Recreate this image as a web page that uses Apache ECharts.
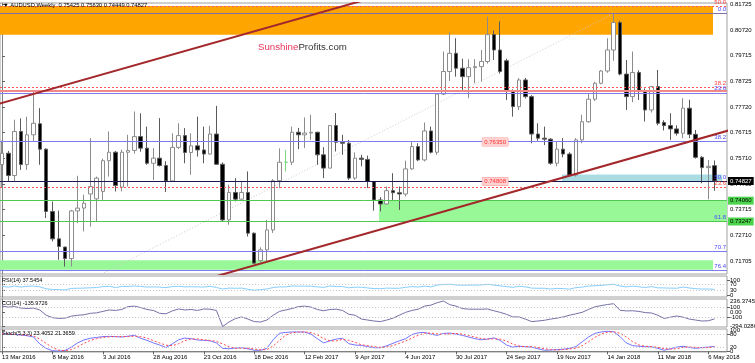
<!DOCTYPE html>
<html><head><meta charset="utf-8">
<script src="https://cdn.jsdelivr.net/npm/echarts@6/dist/echarts.min.js"></script>
<style>html,body{margin:0;padding:0;background:#fff}#c{width:755px;height:363px}</style>
</head><body><div id="c"></div>
<script>
// ---- weekly candles (index 0 = week of 13 Mar 2016) ----
const opens = [0.7547,0.7591,0.7504,0.7676,0.7547,0.7663,0.7706,0.7607,0.7364,0.7257,0.7225,0.7180,0.7366,0.7377,0.7432,0.7413,0.7442,0.7562,0.7595,0.7459,0.7595,0.7602,0.7656,0.7611,0.7552,0.7572,0.7543,0.7483,0.7614,0.7660,0.7594,0.7620,0.7604,0.7588,0.7666,0.7548,0.7331,0.7438,0.7412,0.7438,0.7279,0.7172,0.7214,0.7292,0.7484,0.7556,0.7556,0.7673,0.7663,0.7670,0.7673,0.7585,0.7533,0.7699,0.7634,0.7630,0.7494,0.7572,0.7567,0.7481,0.7409,0.7393,0.7445,0.7437,0.7432,0.7530,0.7617,0.7565,0.7678,0.7595,0.7822,0.7910,0.7981,0.7923,0.7890,0.7925,0.7929,0.7949,0.8054,0.7994,0.7952,0.7835,0.7773,0.7877,0.7812,0.7666,0.7650,0.7646,0.7552,0.7607,0.7588,0.7506,0.7643,0.7714,0.7802,0.7864,0.7912,0.7994,0.8101,0.7900,0.7812,0.7906,0.7835,0.7760,0.7851,0.7711,0.7699,0.7686,0.7669,0.7767,0.7665,0.7575,0.7535,0.75425];
const closes = [0.7591,0.7504,0.7676,0.7547,0.7663,0.7708,0.7607,0.7364,0.7257,0.7227,0.7180,0.7366,0.7377,0.7396,0.7461,0.7494,0.7562,0.7595,0.7465,0.7595,0.7602,0.7656,0.7611,0.7552,0.7572,0.7543,0.7483,0.7614,0.7660,0.7594,0.7620,0.7604,0.7588,0.7666,0.7548,0.7331,0.7438,0.7412,0.7438,0.7279,0.7162,0.7214,0.7292,0.7484,0.7556,0.7556,0.7673,0.7663,0.7670,0.7673,0.7585,0.7533,0.7699,0.7634,0.7630,0.7494,0.7572,0.7567,0.7481,0.7409,0.7393,0.7445,0.7437,0.7432,0.7530,0.7617,0.7565,0.7678,0.7595,0.7822,0.7910,0.7981,0.7923,0.7890,0.7925,0.7929,0.7949,0.8054,0.7994,0.7910,0.7835,0.7773,0.7877,0.7812,0.7666,0.7650,0.7646,0.7552,0.7607,0.7588,0.7506,0.7643,0.7714,0.7802,0.7864,0.7912,0.7994,0.8101,0.7900,0.7812,0.7906,0.7835,0.7760,0.7851,0.7708,0.7699,0.7686,0.7669,0.7767,0.7665,0.7575,0.7535,0.7540,0.74827];
const lows = [0.7455,0.7480,0.7480,0.7526,0.7526,0.7637,0.7546,0.7338,0.7247,0.7175,0.7149,0.7149,0.7318,0.7286,0.7305,0.7325,0.7409,0.7500,0.7442,0.7442,0.7461,0.7590,0.7597,0.7546,0.7487,0.7539,0.7440,0.7480,0.7608,0.7552,0.7507,0.7578,0.7552,0.7585,0.7545,0.7327,0.7312,0.7403,0.7409,0.7266,0.7160,0.7165,0.7168,0.7280,0.7455,0.7520,0.7545,0.7607,0.7611,0.7643,0.7546,0.7494,0.7533,0.7598,0.7585,0.7487,0.7487,0.7540,0.7455,0.7367,0.7364,0.7390,0.7409,0.7370,0.7422,0.7526,0.7560,0.7559,0.7590,0.7585,0.7818,0.7873,0.7890,0.7838,0.7806,0.7864,0.7871,0.7941,0.7955,0.7902,0.7799,0.7734,0.7760,0.7805,0.7630,0.7640,0.7623,0.7546,0.7540,0.7575,0.7501,0.7500,0.7630,0.7710,0.7795,0.7860,0.7905,0.7952,0.7895,0.7760,0.7790,0.7799,0.7715,0.7750,0.7700,0.7680,0.7643,0.7660,0.7650,0.7650,0.7570,0.7474,0.7411,0.74449];
const highs = [0.7640,0.7600,0.7722,0.7727,0.7734,0.7832,0.7767,0.7610,0.7403,0.7367,0.7226,0.7370,0.7503,0.7429,0.7650,0.7500,0.7570,0.7676,0.7600,0.7605,0.7663,0.7754,0.7747,0.7695,0.7611,0.7728,0.7560,0.7669,0.7708,0.7689,0.7669,0.7734,0.7695,0.7698,0.7776,0.7555,0.7468,0.7494,0.7481,0.7520,0.7282,0.7224,0.7331,0.7490,0.7610,0.7604,0.7695,0.7690,0.7731,0.7741,0.7675,0.7615,0.7701,0.7748,0.7663,0.7643,0.7594,0.7585,0.7582,0.7481,0.7420,0.7461,0.7513,0.7461,0.7562,0.7637,0.7630,0.7711,0.7695,0.7825,0.7988,0.8063,0.8040,0.7960,0.7958,0.7958,0.7994,0.8124,0.8070,0.8105,0.7960,0.7840,0.7884,0.7885,0.7818,0.7708,0.7695,0.7650,0.7637,0.7650,0.7595,0.7650,0.7741,0.7825,0.7870,0.7916,0.8040,0.8134,0.8108,0.7955,0.7988,0.7915,0.7844,0.7854,0.7916,0.7720,0.7747,0.7700,0.7806,0.7800,0.7682,0.7580,0.7565,0.75630];
const dateLabels = ['13 Mar 2016','8 May 2016','3 Jul 2016','28 Aug 2016','23 Oct 2016','18 Dec 2016','12 Feb 2017','9 Apr 2017','4 Jun 2017','30 Jul 2017','24 Sep 2017','19 Nov 2017','14 Jan 2018','11 Mar 2018','6 May 2018'];
// ---- indicators ----
const rsi = [58,52,60,53,58,60,54,42,37,36,34,44,45,46,48,50,56,58,50,57,57,60,57,53,54,53,49,56,58,54,55,54,53,58,50,40,46,45,46,38,32,36,40,50,54,54,60,59,59,59,54,51,60,56,56,48,52,52,47,43,42,46,45,45,51,56,53,59,54,66,70,72,67,65,66,66,67,71,66,61,56,51,58,54,46,45,45,40,44,43,39,49,53,59,62,64,68,72,60,54,59,55,50,56,48,47,46,45,53,47,42,40,40,37.5454];
const cci = [130,110,120,90,80,90,50,-60,-110,-126,-120,-80,-60,-50,-20,-10,20,50,40,60,120,130,100,60,40,-20,-30,30,70,50,60,40,70,66,40,-294.0286,-200,-130,-95,-140,-192,-200,-160,-60,20,50,80,120,130,110,60,33,60,66,40,-40,-60,-140,-160,-180,-192,-160,-120,-60,0,40,66,130,150,200,236.3745,160,130,80,66,66,66,70,33,0,-40,-95,-95,-140,-192,-180,-165,-140,-120,-95,-60,-30,1,60,114,140,163,180,44,30,33,20,-5,-13,-60,-126,-100,-75,-100,-140,-160,-180,-175,-135.9726];
const stochMain = [84,82,80,78,74,68,35,14,3,1,4,20,40,54,62,66,70,71,70,68,72,76,62,52,40,30,18,35,55,63,60,54,52,50,40,14,12,16,17,12,5,5,14,55,86,90,92,92,92,82,60,40,50,58,62,36,30,28,22,17,17,26,38,50,60,80,88,90,82,76,85,87,82,76,68,60,55,58,64,52,30,20,24,22,20,12,5,6,8,10,14,22,45,68,85,92,95,93,70,40,27,24,22,21,14,5,12,20,24,18,14,18,20,23.4052];
const stochSignal = [83,83,81,79,77,73,58,38,18,6,3,8,22,38,52,60,66,69,70,70,70,72,70,63,51,40,29,27,36,51,59,59,55,52,47,35,22,14,15,15,11,7,8,25,52,77,89,91,92,89,78,61,50,49,57,52,43,31,27,22,19,20,27,38,49,63,76,86,87,83,81,83,85,82,75,68,61,58,59,58,49,34,25,22,22,18,12,8,6,8,11,15,27,45,66,82,91,93,86,68,46,30,24,22,19,13,10,12,19,21,19,17,17,21.3659];
// ---- axis ticks ----
const priceTicks = [0.81725,0.80720,0.79715,0.78725,0.77720,0.76715,0.75710,0.74705,0.73715,0.72710,0.71705];
const rsiTicksA = [70,30];
const rsiTicksB = [100,0];
const cciTicksA = [236.3745,0,-294.0286];
const cciTicksB = [100,-100];
const stochTicksA = [100,20];
const stochTicksB = [80,0];
// ---- drawn objects ----
const fibALevels = [0.8136,0.7827,0.7636,0.74815,0.7327,0.7210,0.7136];
const fibALabels = ['0.0','23.6','38.2','50.0','61.8','70.7','76.4'];
const fibBLevels = [0.8166,0.7850,0.7459];
const fibBLabels = ['50.0','38.2','23.6'];
const resistanceLine = 0.78354;
const greenLevels = [0.74060,0.73247];
const lastPrice = 0.74827;
const hLineTags = [[78.2,0.76350],[78.2,0.74808]];
const orangeZone = [['min',0.80537],[112.75,0.81656]];
const greenZoneA = [[59.8,0.73247],['max',0.74060]];
const greenZoneB = [['min',0.71360],[112.75,0.71730]];
const cyanZone = [[88.8,0.74810],[114.2,0.75080]];
const trendUpper = [[-10,0.77179],[60,0.82065]];
const trendLower = [[30,0.70834],[116,0.76854]];
const fibDiagonal = [[-7.6,0.6827],[97,0.8136]];

const FONT = 'Liberation Sans';
const XMIN = -0.317, XMAX = 114.97;
const candles = opens.map((o,i)=>[i,o,closes[i],lows[i],highs[i]]);
const idx = a => a.map((v,i)=>[i,v]);

const hLines = [];
fibALevels.forEach((v,k)=>hLines.push({yAxis:v,
  lineStyle:{color: k===0?'#8070a8':(k===3?'#2a2a90':'#7c7cf0'),type:'solid',width:1},
  label:{show:true,position:'insideEndTop',formatter:fibALabels[k],color:'#4848ff',fontSize:6,fontFamily:FONT,distance:[1,1]}}));
fibBLevels.forEach((v,k)=>hLines.push({yAxis:v,
  lineStyle:{color:'#ff5a5a',type:[2,2],width:1},
  label:{show:true,position:'insideEndTop',formatter:fibBLabels[k],color:'#ff4040',fontSize:6,fontFamily:FONT,distance:[1,1]}}));
hLines.push({yAxis:resistanceLine,lineStyle:{color:'#f08a8a',type:'solid',width:2},label:{show:false}});
greenLevels.forEach(v=>hLines.push({yAxis:v,lineStyle:{color:'#4fc84f',type:'solid',width:1},
  label:{show:true,position:'end',formatter:v.toFixed(5),color:'#000',backgroundColor:'#4cd44c',fontSize:6,fontFamily:FONT,padding:[1,2],distance:1}}));
hLines.push({yAxis:lastPrice,lineStyle:{color:'#1a1a50',type:'solid',width:1},
  label:{show:true,position:'end',formatter:lastPrice.toFixed(5),color:'#fff',backgroundColor:'#000',fontSize:6,fontFamily:FONT,padding:[1,2],distance:1}});

const levelLine = (vals)=>({silent:true,symbol:'none',precision:6,label:{show:false},
  lineStyle:{color:'#c8c8c8',type:[1,2],width:1},data:vals.map(v=>({yAxis:v}))});

const chart = echarts.init(document.getElementById('c'),null,{renderer:'canvas'});
const grids = [
  {left:0,right:28,top:3,height:271},
  {left:0,right:28,top:276,height:21},
  {left:0,right:28,top:299,height:28},
  {left:0,right:28,top:329,height:23}
].map(g=>Object.assign(g,{show:true,borderColor:'#a0a0a0',borderWidth:1,containLabel:false,outerBoundsMode:'none'}));

const xAxes = [0,1,2,3].map(k=>({type:'value',gridIndex:k,min:XMIN,max:XMAX,show:k===3,
  splitLine:{show:false},axisLine:{show:true,lineStyle:{color:'#808080'}},
  axisTick:{show:true,customValues:dateLabels.map((_,j)=>j*8),length:3,lineStyle:{color:'#606060'}},
  axisLabel:{show:true,customValues:dateLabels.map((_,j)=>j*8),formatter:v=>dateLabels[Math.round(v/8)],
    align:'left',fontSize:6,fontFamily:FONT,color:'#000',margin:2}}));

const yAxisBase = (k,min,max,ticks,fmt,showLine)=>({type:'value',gridIndex:k,position:'right',min:min,max:max,
  splitLine:{show:false},axisLine:{show:showLine,lineStyle:{color:'#808080'}},
  axisTick:{show:true,customValues:ticks,length:3,lineStyle:{color:'#606060'}},
  axisLabel:{customValues:ticks,formatter:fmt,fontSize:6,fontFamily:FONT,color:'#000',margin:3,hideOverlap:false}});

const option = {
  animation:false,
  backgroundColor:'#ffffff',
  grid:grids,
  xAxis:xAxes,
  yAxis:[
    yAxisBase(0,0.71198,0.81774,priceTicks,v=>v.toFixed(5),true),
    yAxisBase(1,-13.3,126.7,rsiTicksA,v=>String(v),true),
    yAxisBase(2,-304.4,277.97,cciTicksA,v=>v===0?'0.00':String(v),true),
    yAxisBase(3,-3.3,106.2,stochTicksA,v=>String(v),true),
    yAxisBase(1,-13.3,126.7,rsiTicksB,v=>String(v),false),
    yAxisBase(2,-304.4,277.97,cciTicksB,v=>String(v),false),
    yAxisBase(3,-3.3,106.2,stochTicksB,v=>String(v),false)
  ],
  series:[
    {type:'line',xAxisIndex:0,yAxisIndex:0,data:[],z:1,silent:true,
      markArea:{silent:true,data:[
        [{xAxis:orangeZone[0][0],yAxis:orangeZone[0][1],itemStyle:{color:'#ffa500'}},{xAxis:orangeZone[1][0],yAxis:orangeZone[1][1]}],
        [{xAxis:greenZoneA[0][0],yAxis:greenZoneA[0][1],itemStyle:{color:'#98f898'}},{xAxis:greenZoneA[1][0],yAxis:greenZoneA[1][1]}],
        [{xAxis:greenZoneB[0][0],yAxis:greenZoneB[0][1],itemStyle:{color:'#98f898'}},{xAxis:greenZoneB[1][0],yAxis:greenZoneB[1][1]}],
        [{xAxis:cyanZone[0][0],yAxis:cyanZone[0][1],itemStyle:{color:'#a9dde3'}},{xAxis:cyanZone[1][0],yAxis:cyanZone[1][1]}]
      ]}},
    {type:'line',xAxisIndex:0,yAxisIndex:0,data:[],z:2,silent:true,
      markLine:{silent:true,symbol:'none',precision:6,animation:false,data:hLines}},
    {type:'line',xAxisIndex:0,yAxisIndex:0,data:fibDiagonal,z:3,symbol:'none',silent:true,
      lineStyle:{color:'#c8c8c8',type:[1,2],width:1}},
    {type:'candlestick',xAxisIndex:0,yAxisIndex:0,data:candles,z:4,barWidth:4,silent:true,
      itemStyle:{color:'#ffffff',color0:'#000000',borderColor:'#8c8c8c',borderColor0:'#5a5a5a',borderColorDoji:'#7ed87e',borderWidth:1}},
    {type:'line',xAxisIndex:0,yAxisIndex:0,data:trendUpper,z:5,symbol:'none',silent:true,
      lineStyle:{color:'#a3282b',width:2}},
    {type:'line',xAxisIndex:0,yAxisIndex:0,data:trendLower,z:5,symbol:'none',silent:true,
      lineStyle:{color:'#a3282b',width:2}},
    {type:'scatter',xAxisIndex:0,yAxisIndex:0,data:[],z:6,silent:true,
      markPoint:{silent:true,symbol:'rect',symbolSize:[1,1],itemStyle:{color:'rgba(0,0,0,0)'},
        data:hLineTags.map(t=>({coord:t,value:t[1].toFixed(5)})),
        label:{show:true,position:'inside',formatter:'{c}',color:'#ff3030',backgroundColor:'#ffd2d2',
          borderColor:'#ff9a9a',borderWidth:0.5,fontSize:6,fontFamily:FONT,padding:[1,2]}}},
    {type:'line',xAxisIndex:1,yAxisIndex:1,data:idx(rsi),symbol:'none',silent:true,
      lineStyle:{color:'#87cefa',width:1},markLine:levelLine([70,30])},
    {type:'line',xAxisIndex:2,yAxisIndex:2,data:idx(cci),symbol:'none',silent:true,
      lineStyle:{color:'#7472a6',width:1},markLine:levelLine([100,-100])},
    {type:'line',xAxisIndex:3,yAxisIndex:3,data:idx(stochMain),symbol:'none',silent:true,
      lineStyle:{color:'#7373ff',width:1},markLine:levelLine([80,20])},
    {type:'line',xAxisIndex:3,yAxisIndex:3,data:idx(stochSignal),symbol:'none',silent:true,
      lineStyle:{color:'#ff4a4a',width:1,type:[2,2]}}
  ],
  graphic:[
    {type:'text',left:3,top:2,z:20,style:{text:'\u25BC AUDUSD,Weekly  0.75425 0.75630 0.74449 0.74827',font:'5.8px "Liberation Sans"',fill:'#000'}},
    {type:'text',left:2,top:277,z:20,style:{text:'RSI(14) 37.5454',font:'5.5px "Liberation Sans"',fill:'#000'}},
    {type:'text',left:2,top:300,z:20,style:{text:'CCI(14) -135.9726',font:'5.5px "Liberation Sans"',fill:'#000'}},
    {type:'text',left:2,top:330,z:20,style:{text:'Stoch(5,3,3) 23.4052 21.3659',font:'5.5px "Liberation Sans"',fill:'#000'}},
    {type:'text',left:258,top:42,z:20,style:{text:'{a|Sunshine}{b|Profits.com}',rich:{
      a:{fill:'#e8365a',font:'9.7px "Liberation Sans"'},b:{fill:'#333',font:'9.7px "Liberation Sans"'}}}}
  ]
};
chart.setOption(option);
</script></body></html>
